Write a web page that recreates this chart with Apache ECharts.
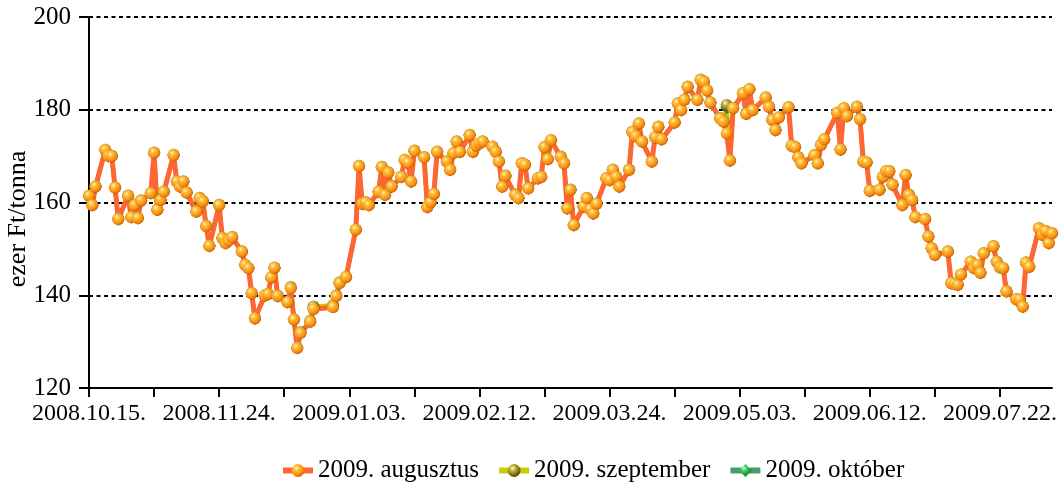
<!DOCTYPE html>
<html>
<head>
<meta charset="utf-8">
<script src="https://cdn.jsdelivr.net/npm/echarts@6/dist/echarts.min.js"></script>
<style>
html,body{margin:0;padding:0;background:#fff;}
#chart{width:1059px;height:483px;}
</style>
</head>
<body>
<div id="chart"></div>
<script>
// x positions: days elapsed since 2008.10.15.
const days = [
0,1,2,5,6,7,8,9,12,13,14,15,16,19,20,21,22,23,26,27,28,29,30,
33,34,35,36,37,40,41,42,43,44,47,48,49,50,51,54,55,56,57,58,
61,62,63,64,65,68,69,75,76,77,79,82,83,84,85,86,89,90,91,92,93,
96,97,98,99,100,103,104,105,106,107,110,111,112,113,114,117,118,119,120,121,
124,125,126,127,128,131,132,133,134,135,138,139,140,141,142,145,146,147,148,149,
152,153,154,155,156,159,160,161,162,163,166,167,168,169,170,173,174,175,176,
180,181,182,183,184,187,188,189,190,191,194,195,196,197,198,201,202,203,204,
208,209,210,211,212,215,216,217,218,219,223,224,225,226,230,231,232,233,
236,237,238,239,240,243,244,245,246,247,250,251,252,253,254,257,258,259,260,
264,265,266,267,268,271,272,273,274,275,278,279,280,281,282,285,286,287,288,289,
292,293,294,295,296
];
const augusztus = [
161.4,159.4,163.4,171.3,170.0,170.0,163.2,156.4,161.4,156.8,159.4,156.6,160.4,162.0,170.7,158.4,160.5,162.3,170.2,164.5,163.4,164.5,162.1,
158.0,160.9,160.2,154.9,150.6,159.4,152.3,151.2,151.8,152.5,149.4,146.5,145.8,140.4,135.0,139.9,140.2,143.8,145.9,139.8,
138.5,141.5,134.7,128.6,131.8,134.3,137.0,137.4,139.8,142.6,143.9,154.1,167.8,159.7,160.0,159.4,162.3,167.6,161.6,166.4,163.4,
165.5,169.1,168.6,164.5,171.1,169.7,159.0,160.0,161.8,170.9,168.8,167.0,170.6,173.1,170.9,174.5,170.9,172.2,172.7,173.1,
172.0,170.9,168.8,163.4,165.7,161.6,160.9,168.4,168.1,163.0,165.2,165.5,171.9,169.3,173.4,169.8,168.4,158.7,162.7,155.1,
159.1,160.9,158.5,157.6,159.7,165.2,164.8,167.0,165.5,163.4,167.0,175.2,174.3,177.0,173.1,168.8,174.0,176.3,173.6,
177.2,181.3,179.9,182.1,184.9,182.1,186.4,186.0,184.1,181.5,178.1,177.4,174.9,169.0,180.3,183.5,179.1,184.4,179.9,
182.6,180.6,177.8,175.6,178.3,180.5,172.2,171.9,169.7,168.4,170.2,168.4,172.4,173.6,179.3,171.4,180.3,178.6,
180.6,177.9,168.8,168.6,162.5,162.7,165.5,166.7,166.7,163.8,159.4,165.9,161.6,160.5,156.8,156.4,152.6,150.1,148.7,
149.4,142.6,142.4,142.2,144.4,147.2,145.8,146.5,144.8,149.0,150.5,147.2,146.0,145.8,140.8,139.1,139.0,137.5,147.0,146.1,
154.4,153.0,153.8,151.2,153.3
];
const szeptember = [
161.5,159.5,163.5,171.4,170.1,170.1,163.3,156.5,161.5,156.9,159.5,156.7,160.5,162.1,170.8,158.5,160.6,162.4,170.3,164.6,163.5,164.6,162.2,
158.1,161.0,160.3,155.0,150.7,159.5,152.4,151.3,151.9,152.6,149.5,146.6,145.9,140.5,135.1,140.0,140.3,143.9,146.0,139.9,
138.6,141.8,134.8,128.7,132.1,134.5,137.6,137.9,140.0,142.8,144.0,154.2,167.9,159.8,160.1,159.5,162.4,167.7,161.7,166.5,163.5,
165.6,169.2,168.7,164.6,171.2,169.8,159.1,160.1,161.9,171.0,168.9,167.1,170.7,173.2,171.0,174.6,171.0,172.3,172.8,173.2,
172.1,171.0,168.9,163.5,165.8,161.7,161.0,168.5,168.2,163.1,165.3,165.6,172.0,169.4,173.5,169.9,168.5,158.8,162.8,155.2,
159.2,161.0,158.6,157.7,159.8,165.3,164.9,167.1,165.6,163.5,167.1,175.3,174.4,177.1,173.2,168.9,174.1,176.4,173.7,
177.3,181.4,180.0,182.2,185.0,182.2,186.5,186.1,184.2,181.6,178.2,177.5,181.0,169.1,180.4,183.6,179.2,184.5,180.0,
182.7,180.7,177.9,175.7,178.4,180.6,172.3,172.0,169.8,168.5,170.3,168.5,172.5,173.7,179.4,171.5,180.4,178.7,
180.7,178.0,168.9,168.7,162.6,162.8,165.6,166.8,166.8,163.9,159.5,166.0,161.7,160.6,156.9,156.5,152.7,150.2,148.8,
149.5,142.7,142.5,142.3,144.5,147.3,145.9,146.6,144.9,149.1,150.6,147.3,146.1,145.9,140.9,139.2,139.1,137.6,147.1,146.2,
154.5,153.1,153.9,151.3,153.4
];
const oktober = [
161.4,159.4,163.4,171.3,170.0,170.0,163.2,156.4,161.4,156.8,159.4,156.6,160.4,162.0,170.7,158.4,160.5,162.3,170.2,164.5,163.4,164.5,162.1,
158.0,160.9,160.2,154.9,150.6,159.4,152.3,151.2,151.8,152.5,149.4,146.5,145.8,140.4,135.0,139.9,140.2,143.8,145.9,139.8,
138.5,141.5,134.7,128.6,131.8,134.3,137.2,137.5,139.8,142.6,143.9,154.1,167.8,159.7,160.0,159.4,162.3,167.6,161.6,166.4,163.4,
165.5,169.1,168.6,164.5,171.1,169.7,159.0,160.0,161.8,170.9,168.8,167.0,170.6,173.1,170.9,174.5,170.9,172.2,172.7,173.1,
172.0,170.9,168.8,163.4,165.7,161.6,160.9,168.4,168.1,163.0,165.2,165.5,171.9,169.3,173.4,169.8,168.4,158.7,162.7,155.1,
159.1,160.9,158.5,157.6,159.7,165.2,164.8,167.0,165.5,163.4,167.0,175.2,174.3,177.0,173.1,168.8,174.0,176.3,173.6,
177.2,181.3,179.9,182.1,184.9,182.1,186.4,186.0,184.1,181.5,178.1,177.4,180.5,169.0,180.3,183.5,179.1,184.4,179.9,
182.6,180.6,177.8,175.6,178.3,180.5,172.2,171.9,169.7,168.4,170.2,168.4,172.4,173.6,179.3,171.4,180.3,178.6,
180.6,177.9,168.8,168.6,162.5,162.7,165.5,166.7,166.7,163.8,159.4,165.9,161.6,160.5,156.8,156.4,152.6,150.1,148.7,
149.4,142.6,142.4,142.2,144.4,147.2,145.8,146.5,144.8,149.0,150.5,147.2,146.0,145.8,140.8,139.1,139.0,137.5,147.0,146.1,
154.4,153.0,153.8,151.2,153.3
];
const tickLabels = ['2008.10.15.','2008.11.24.','2009.01.03.','2009.02.12.','2009.03.24.','2009.05.03.','2009.06.12.','2009.07.22.'];
const seriesNames = ['2009. augusztus','2009. szeptember','2009. október'];
const yName = 'ezer Ft/tonna';

const labelStep = 40, tickStep = 20, lastDay = 296;
const labelVals = tickLabels.map((_, i) => i * labelStep);
const tickVals = [];
for (let v = 0; v <= labelVals[labelVals.length - 1]; v += tickStep) tickVals.push(v);

const pairs = vals => days.map((d, i) => [d, vals[i]]);
const FONT = 'Liberation Serif';

function ball(stops) {
  return {type: 'radial', x: 0.38, y: 0.32, r: 0.7, colorStops: stops};
}
const orangeBall = ball([{offset:0,color:'#FFF6C0'},{offset:0.28,color:'#FFBE3A'},{offset:0.75,color:'#F88A10'},{offset:1,color:'#D06000'}]);
const oliveBall = ball([{offset:0,color:'#FFFCE0'},{offset:0.3,color:'#C9B44A'},{offset:0.75,color:'#7E6A08'},{offset:1,color:'#4C3E00'}]);
const greenDia = ball([{offset:0,color:'#C8FFC8'},{offset:0.35,color:'#3CC860'},{offset:1,color:'#0C7028'}]);

const chart = echarts.init(document.getElementById('chart'), null, {renderer: 'canvas'});
chart.setOption({
  animation: false,
  backgroundColor: '#fff',
  grid: {left: 89, right: 7, top: 17, bottom: 95, containLabel: false, outerBoundsMode: 'none'},
  legend: {
    data: seriesNames,
    left: 275, top: 453,
    itemWidth: 30, itemHeight: 16, itemGap: 17,
    lineStyle: {width: 6},
    textStyle: {fontFamily: FONT, fontSize: 25, color: '#000'}
  },
  xAxis: {
    type: 'value', min: 0, max: lastDay, interval: tickStep,
    axisLine: {show: true, lineStyle: {color: '#000', width: 2}},
    axisTick: {show: true, length: 9, lineStyle: {color: '#000', width: 2}, customValues: tickVals},
    axisLabel: {
      customValues: labelVals, margin: 14,
      fontFamily: FONT, fontSize: 24, color: '#000',
      formatter: v => tickLabels[Math.round(v / labelStep)] || ''
    },
    splitLine: {show: false}
  },
  yAxis: {
    type: 'value', min: 120, max: 200, interval: 20,
    name: yName, nameLocation: 'middle', nameGap: 58, nameMoveOverlap: false,
    nameTextStyle: {fontFamily: FONT, fontSize: 26, color: '#000', padding: [0, 33, 0, 0]},
    axisLine: {show: true, lineStyle: {color: '#000', width: 2}},
    axisTick: {show: true, length: 10, lineStyle: {color: '#000', width: 2}},
    axisLabel: {margin: 18, fontFamily: FONT, fontSize: 25, color: '#000'},
    splitLine: {show: true, lineStyle: {color: '#000', width: 2, type: [4, 3.5]}}
  },
  series: [
    {
      name: seriesNames[2], type: 'line', data: pairs(oktober),
      symbol: 'diamond', symbolSize: 13, showAllSymbol: true,
      lineStyle: {color: '#4E9C6E', width: 4},
      itemStyle: {color: greenDia},
      emphasis: {disabled: true}
    },
    {
      name: seriesNames[1], type: 'line', data: pairs(szeptember),
      symbol: 'circle', symbolSize: 12, showAllSymbol: true,
      lineStyle: {color: '#CCCC00', width: 4},
      itemStyle: {color: oliveBall},
      emphasis: {disabled: true}
    },
    {
      name: seriesNames[0], type: 'line', data: pairs(augusztus),
      symbol: 'circle', symbolSize: 12, showAllSymbol: true,
      lineStyle: {color: '#FF6633', width: 5},
      itemStyle: {color: orangeBall},
      emphasis: {disabled: true}
    }
  ]
});
</script>
</body>
</html>
